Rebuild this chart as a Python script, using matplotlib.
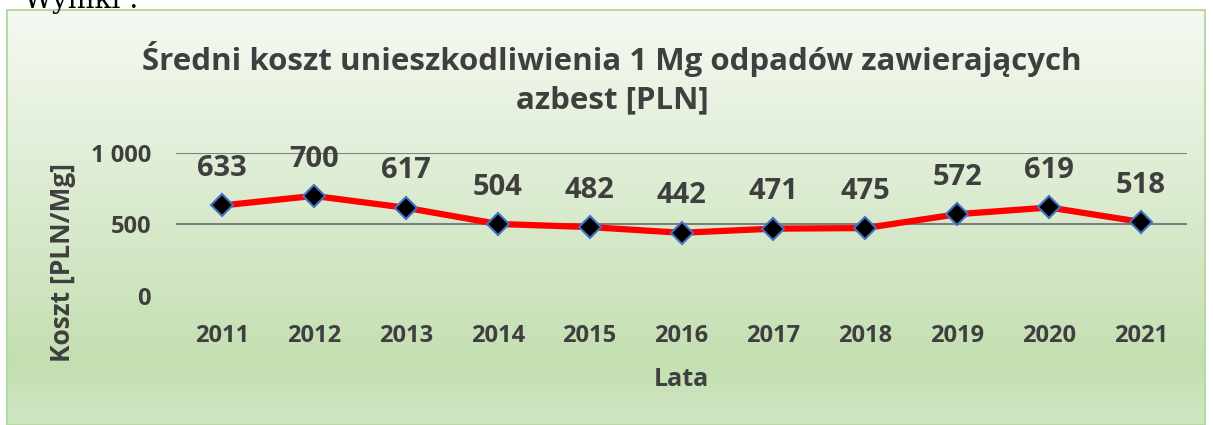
import numpy as np
import matplotlib
matplotlib.use('Agg')
import matplotlib.pyplot as plt
from matplotlib.colors import LinearSegmentedColormap
from matplotlib.patches import Rectangle
from matplotlib.ticker import FuncFormatter

# data
years = ['2011', '2012', '2013', '2014', '2015', '2016',
         '2017', '2018', '2019', '2020', '2021']
cost = [633, 700, 617, 504, 482, 442, 471, 475, 572, 619, 518]
y_ticks = [0, 500, 1000]

plt.rcParams['font.family'] = ['Open Sans', 'DejaVu Sans']
txt = '#3f3f3f'

fig = plt.figure(figsize=(12.13, 4.25), dpi=100)

# gradient background of the chart area
x0, y0 = 7 / 1213, 0.0
w, h = 1198 / 1213, 1 - 10 / 425
bg = fig.add_axes([x0, y0, w, h], zorder=0)
cmap = LinearSegmentedColormap.from_list(
    'g', [(0, '#f5f9f2'), (0.85, '#c4dfb2'), (1.0, '#d0e7c3')])
bg.imshow(np.linspace(0, 1, 256).reshape(-1, 1), aspect='auto', cmap=cmap,
          extent=[0, 1, 0, 1])
bg.set_axis_off()
fig.patches.append(Rectangle((x0, y0), w, h, transform=fig.transFigure,
                             fill=False, edgecolor='#b9d8a6', lw=1.5, zorder=1))

fig.text(0.02, 1.0, 'Wyniki :', family='DejaVu Serif', fontsize=20,
         va='center', ha='left', color='black')

ax = fig.add_axes([176 / 1213, 1 - 296 / 425, 1011 / 1213, 143 / 425], zorder=2)
ax.patch.set_alpha(0)
x = np.arange(len(years))
ax.plot(x, cost, color='#ff0000', lw=4.5, zorder=3, clip_on=False)
ax.plot(x, cost, ls='none', marker='D', ms=11, mfc='black', mec='#4472c4',
        mew=1.5, zorder=4, clip_on=False)
for xi, v in zip(x, cost):
    ax.annotate(str(v), (xi, v), xytext=(0, 26.5), textcoords='offset points',
                ha='center', va='center', fontsize=21, fontweight='bold',
                color=txt, annotation_clip=False)

ax.set_xlim(-0.5, len(years) - 0.5)
ax.set_ylim(0, 1000)
ax.set_yticks(y_ticks)
ax.yaxis.set_major_formatter(FuncFormatter(lambda v, p: f'{int(v):,}'.replace(',', ' ')))
ax.set_xticks(x)
ax.set_xticklabels(years)
for s in ax.spines.values():
    s.set_visible(False)
ax.grid(axis='y', color='#7f7f7f', lw=1.5)
ax.set_axisbelow(True)
ax.get_ygridlines()[0].set_color('#d9d9d9')
ax.tick_params(length=0, labelsize=17, colors=txt, pad=0)
ax.tick_params(axis='y', pad=18)
ax.tick_params(axis='x', pad=20)
for lab in ax.get_xticklabels() + ax.get_yticklabels():
    lab.set_fontweight('bold')

fig.text(681 / 1213, 1 - 380 / 425, 'Lata', ha='center', va='center',
         fontsize=18, fontweight='bold', color=txt)
fig.text(62 / 1213, 1 - 262 / 425, 'Koszt [PLN/Mg]', ha='center', va='center',
         rotation=90, fontsize=19, fontweight='bold', color=txt)
fig.text(612 / 1213, 1 - 78 / 425,
         'Średni koszt unieszkodliwienia 1 Mg odpadów zawierających\nazbest [PLN]',
         ha='center', va='center', fontsize=22.5, fontweight='bold', color=txt,
         linespacing=1.35)

fig.savefig('out.png', dpi=100)
